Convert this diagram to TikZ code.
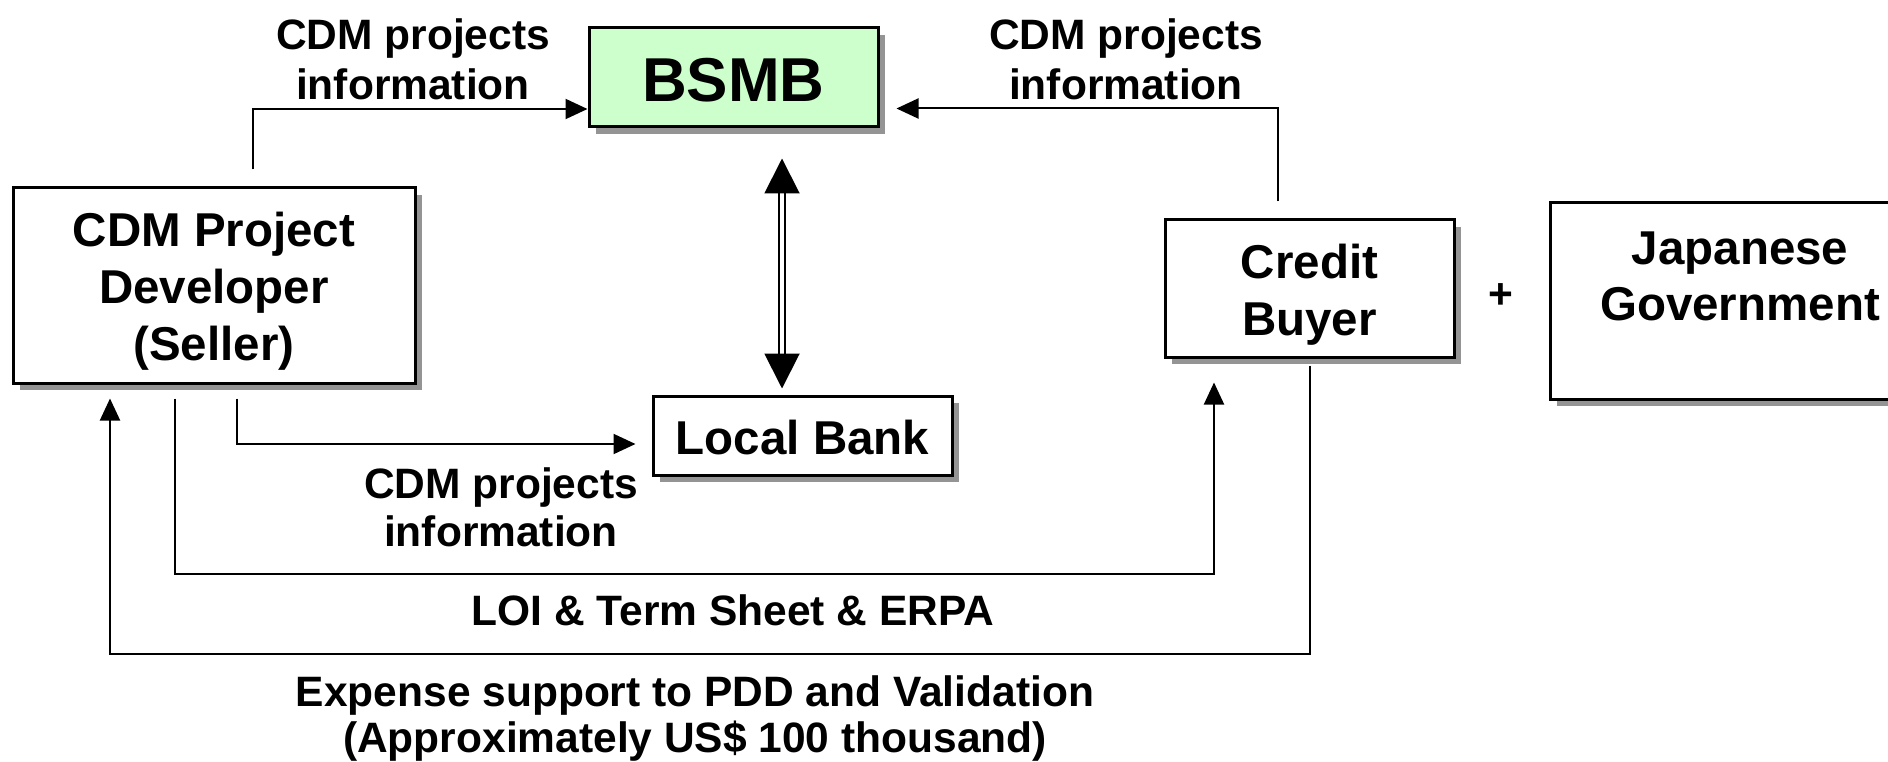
\documentclass[tikz,border=0pt]{standalone}
\usepackage{fontspec}
\setmainfont{Liberation Sans}
\usetikzlibrary{arrows.meta,shadows}
\definecolor{bsmbgreen}{HTML}{CCFFCC}
\begin{document}
\begin{tikzpicture}[x=1pt,y=-1pt,
  box/.style={draw, line width=3pt, fill=white, inner sep=0pt,
    drop shadow={shadow xshift=7pt, shadow yshift=-7pt, fill=black!42, opacity=1}},
  boxtext/.style={font=\bfseries\fontsize{47.5}{57}\selectfont, align=center, inner sep=0pt},
  lbl/.style={font=\bfseries\fontsize{42.5}{49}\selectfont, align=center, inner sep=0pt},
  conn/.style={line width=2pt, -{Triangle[length=22pt,width=20pt]}},
  dbl/.style={line width=2pt, double distance=4pt,
    {Triangle[length=35pt,width=35pt]}-{Triangle[length=35pt,width=35pt]}}]
\useasboundingbox (0,0) rectangle (1888,762);

% boxes
\node[box, fill=bsmbgreen, minimum width=289pt, minimum height=99pt,
  label={[boxtext, font=\bfseries\fontsize{62}{70}\selectfont, yshift=-2.5pt]center:BSMB}] (bsmb) at (733.5,77.5) {};
\node[box, minimum width=402pt, minimum height=195pt,
  label={[boxtext, yshift=-6pt]center:{CDM Project\\Developer\\(Seller)}}] (dev) at (214,285.5) {};
\node[box, minimum width=289pt, minimum height=137pt,
  label={[boxtext, yshift=-6pt]center:{Credit\\Buyer}}] (buyer) at (1309.5,288.5) {};
\node[box, minimum width=299pt, minimum height=79pt,
  label={[boxtext, yshift=-2.5pt]center:{Local Bank}}] (bank) at (802.5,435.5) {};
\node[box, minimum width=390pt, minimum height=196pt] (jp) at (1745,301) {};
\node[boxtext, font=\bfseries\fontsize{47.5}{56}\selectfont] (jptext) at (1740,276) {Japanese\\Government};
\node[lbl] (plus) at (1501,296) {+};

% labels
\node[lbl, font=\bfseries\fontsize{42.5}{50}\selectfont] (l1) at (413,59) {CDM projects\\information};
\node[lbl, font=\bfseries\fontsize{42.5}{50}\selectfont] (l2) at (1126,59) {CDM projects\\information};
\node[lbl, font=\bfseries\fontsize{42.5}{48}\selectfont] (l3) at (501,507) {CDM projects\\information};
\node[lbl] (l4) at (733,610) {LOI \& Term Sheet \& ERPA};
\node[lbl, font=\bfseries\fontsize{42.5}{46}\selectfont] (l5) at (695,719) {Expense support to PDD and Validation\\(Approximately US\$ 100 thousand)};

% connectors
\draw[conn] ([xshift=39pt,yshift=17pt]dev.north) |- ([yshift=-31.5pt]bsmb.west);
\draw[conn] ([xshift=-31.5pt,yshift=17pt]buyer.north) |- ([xshift=17pt,yshift=-31pt]bsmb.east);
\draw[conn] ([xshift=23pt,yshift=-14pt]dev.south) |- ([xshift=-16pt,yshift=-8.5pt]bank.west);
\draw[conn] ([xshift=-39pt,yshift=-14pt]dev.south) -- ++(0,175) -| ([xshift=-95.5pt,yshift=-24pt]buyer.south);
\draw[conn] ([yshift=-7pt]buyer.south) -- ++(0,288) -| ([xshift=-104pt,yshift=-14pt]dev.south);
\draw[dbl] ([xshift=48.5pt,yshift=-30pt]bsmb.south) -- ([xshift=-20.5pt,yshift=6pt]bank.north);
\end{tikzpicture}
\end{document}
